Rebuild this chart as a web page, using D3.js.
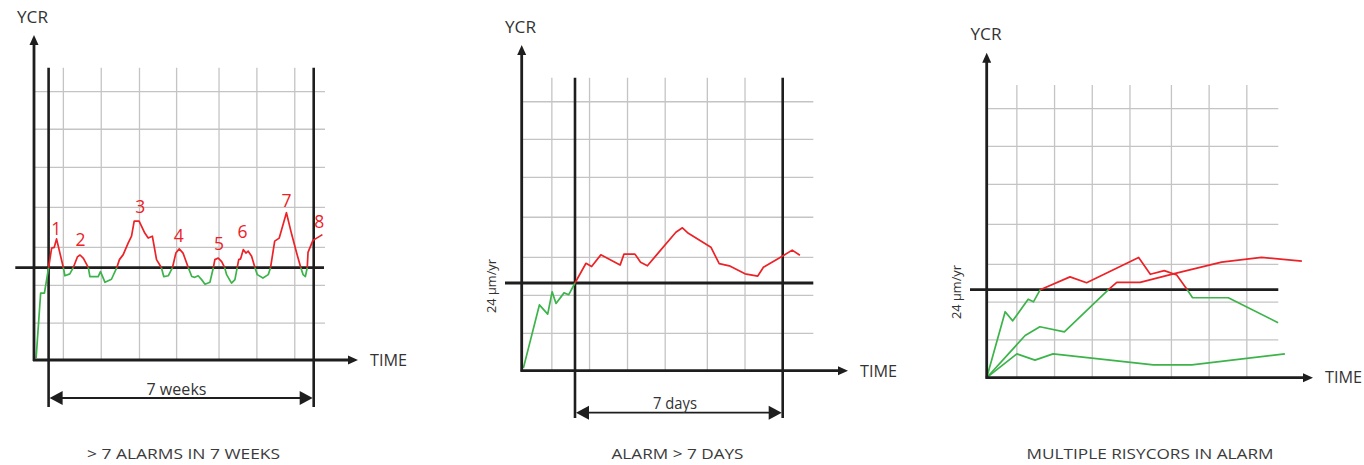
<!DOCTYPE html>
<html>
<head>
<meta charset="utf-8">
<script src="https://cdn.jsdelivr.net/npm/d3@7"></script>
<style>
  body { margin: 0; background: #fff; }
  text { font-family: "Open Sans", sans-serif; fill: #333; }
</style>
</head>
<body>
<script>
var THRESHOLD = 24; // µm/yr

// ---- panel 1 : weeks / YCR ----
var p1Series = [
  [-0.33, 0.5], [-0.21, 17.4], [-0.11, 17.4], [0, 24], [0.08, 29.1], [0.15, 29.3], [0.21, 31.5],
  [0.39, 24], [0.43, 21.9], [0.56, 22.4], [0.65, 24], [0.76, 26.8], [0.83, 27.3], [0.92, 26.4],
  [1.05, 24], [1.09, 21.7], [1.31, 21.7], [1.37, 23], [1.49, 20.2], [1.66, 21], [1.80, 24],
  [1.87, 26.1], [1.97, 27.4], [2.10, 30.4], [2.19, 32.2], [2.26, 36.1], [2.39, 36.1], [2.54, 33],
  [2.63, 31.7], [2.74, 32.2], [2.85, 26.1], [2.98, 24], [3.04, 21.7], [3.16, 21.9], [3.27, 24],
  [3.36, 27.8], [3.45, 28.9], [3.55, 27.8], [3.69, 24], [3.78, 21.7], [3.86, 21.5], [3.95, 21.9],
  [4.04, 20.9], [4.13, 19.7], [4.26, 20.2], [4.35, 24], [4.39, 26.1], [4.48, 26.5], [4.57, 25.6],
  [4.65, 24], [4.70, 22.2], [4.83, 20], [4.92, 20.9], [4.98, 24], [5.02, 26.1], [5.07, 26.3],
  [5.14, 28.7], [5.21, 27.8], [5.27, 28.3], [5.36, 27], [5.45, 24], [5.51, 22.2], [5.66, 21.3],
  [5.80, 22.2], [5.86, 24], [5.97, 30.9], [6.09, 31.7], [6.28, 38.3], [6.41, 33], [6.55, 27.8],
  [6.66, 24], [6.72, 22.2], [6.78, 21.7], [6.83, 24], [6.85, 28], [6.98, 31.1], [7.23, 32.6]
];
var p1Alarms = [
  [0.20, 32.5, "1"], [0.84, 29.6, "2"], [2.42, 38.3, "3"], [3.44, 30.7, "4"],
  [4.50, 28.6, "5"], [5.12, 31.6, "6"], [6.28, 39.8, "7"], [7.15, 34.2, "8"]
];
var p1XGrid = [0.39, 1.39, 2.4, 3.38, 4.5, 5.5, 6.5];
var p1YGrid = [9.6, 19.4, 29.3, 39.7, 50.1, 60, 69.8];

// ---- panel 2 : days / YCR ----
var p2Series = [
  [-1.74, 0.7], [-1.20, 18.0], [-0.92, 15.5], [-0.77, 21.6], [-0.64, 18.4], [-0.37, 21.3],
  [-0.21, 20.8], [0, 24], [0.37, 29.4], [0.56, 28.5], [0.87, 31.7], [1.52, 28.9], [1.65, 31.9],
  [2.02, 31.9], [2.21, 29.7], [2.44, 28.7], [2.75, 31.7], [3.40, 37.9], [3.62, 39.1], [3.82, 37.6],
  [4.58, 33.8], [4.86, 29.3], [5.20, 28.7], [5.73, 26.5], [6.16, 25.9], [6.35, 28.3], [7.0, 31.4],
  [7.32, 33.0], [7.58, 31.6]
];
var p2XGrid = [-0.78, 0.49, 1.77, 3.04, 4.46, 5.73];
var p2YGrid = [10.2, 20.6, 31, 42, 52.9, 63.3, 73.6];

// ---- panel 3 : three risycors ----
var p3SeriesA = [
  [0, 0], [0.49, 18.0], [0.69, 15.5], [1.10, 21.4], [1.24, 20.7], [1.42, 24], [2.21, 27.5],
  [2.65, 25.9], [4.03, 32.8], [4.34, 28.2], [4.71, 29.2], [5.04, 28.0], [5.32, 24], [5.46, 21.8],
  [6.41, 21.8], [7.73, 15.0]
];
var p3SeriesB = [
  [0, 0], [1.02, 11.5], [1.41, 13.9], [2.06, 12.5], [3.23, 24], [3.45, 26.0], [4.07, 26.0],
  [4.95, 28.3], [6.23, 31.5], [7.29, 32.8], [8.36, 31.8]
];
var p3SeriesC = [
  [0, 0], [0.80, 6.5], [1.28, 4.8], [1.76, 6.5], [4.42, 3.5], [5.44, 3.5], [7.91, 6.5]
];
var p3XGrid = [0.8, 1.8, 2.8, 3.8, 4.9, 5.9, 6.9];
var p3YGrid = [10.3, 20.6, 30.9, 41.8, 52.7, 63.1, 73.4];

var RED = "#ec2227", GREEN = "#3cb44a", INK = "#1e1e1e", GRID = "#c4c4c4";

var svg = d3.select("body").append("svg")
  .attr("width", 1364).attr("height", 465);

var panels = [
  { series: [p1Series], xGrid: p1XGrid, yGrid: p1YGrid, labels: p1Alarms,
    axisX: 34, axisY: 360, xRange: [48.6, 313.7], yRange: [360, 267.7],
    gridTop: 67.7, gridRight: 325, yTip: 35, xTip: 358, thr: [15.3, 324],
    win: { top: 67.7, bottom: 407, arrowY: 398, text: "7 weeks", textX: 176.5, textY: 395, w: 60 },
    ycr: [32.5, 23.3], time: [370, 366], unit: null,
    caption: "> 7 ALARMS IN 7 WEEKS", capX: 183.5, capW: 193 },
  { series: [p2Series], xGrid: p2XGrid, yGrid: p2YGrid, labels: [],
    axisX: 521.7, axisY: 370.7, xRange: [575, 782.7], yRange: [370.7, 283],
    gridTop: 77.7, gridRight: 813.3, yTip: 45, xTip: 848, thr: [505, 813.3],
    win: { top: 77.7, bottom: 418, arrowY: 412.7, text: "7 days", textX: 675, textY: 409, w: 44 },
    ycr: [520.5, 33], time: [860, 377], unit: [491.5, 286],
    caption: "ALARM > 7 DAYS", capX: 677.5, capW: 132 },
  { series: [p3SeriesC, p3SeriesB, p3SeriesA], xGrid: p3XGrid, yGrid: p3YGrid, labels: [],
    axisX: 986.7, axisY: 377.7, xRange: [986.7, 1250.6], yRange: [377.7, 289.7],
    gridTop: 85, gridRight: 1278.3, yTip: 52.7, xTip: 1313, thr: [970, 1278.3],
    win: null,
    ycr: [986, 40], time: [1325, 383], unit: [957, 292],
    caption: "MULTIPLE RISYCORS IN ALARM", capX: 1150, capW: 247 }
];

// split a series into runs of the same colour (above / below threshold)
function colourRuns(series) {
  var runs = [];
  d3.pairs(series).forEach(function(p) {
    var c = (p[0][1] + p[1][1]) / 2 > THRESHOLD ? RED : GREEN;
    var last = runs[runs.length - 1];
    if (last && last.colour == c) last.pts.push(p[1]);
    else runs.push({ colour: c, pts: [p[0], p[1]] });
  });
  return runs;
}

panels.forEach(function(p) {
  var g = svg.append("g");
  var x = d3.scaleLinear().domain([0, 7]).range(p.xRange);
  var y = d3.scaleLinear().domain([0, THRESHOLD]).range(p.yRange);

  // grid
  g.selectAll("line.vgrid").data(p.xGrid).enter().append("line")
    .attr("class", "vgrid")
    .attr("x1", d => x(d)).attr("x2", d => x(d))
    .attr("y1", p.gridTop).attr("y2", p.axisY)
    .attr("stroke", GRID).attr("stroke-width", 1.3);
  g.selectAll("line.hgrid").data(p.yGrid).enter().append("line")
    .attr("class", "hgrid")
    .attr("x1", p.axisX).attr("x2", p.gridRight)
    .attr("y1", d => y(d)).attr("y2", d => y(d))
    .attr("stroke", GRID).attr("stroke-width", 1.3);

  // threshold
  g.append("line")
    .attr("x1", p.thr[0]).attr("x2", p.thr[1])
    .attr("y1", y(THRESHOLD)).attr("y2", y(THRESHOLD))
    .attr("stroke", INK).attr("stroke-width", 2.8);

  // window
  if (p.win) {
    [0, 7].forEach(function(t) {
      g.append("line")
        .attr("x1", x(t)).attr("x2", x(t))
        .attr("y1", p.win.top).attr("y2", p.win.bottom)
        .attr("stroke", INK).attr("stroke-width", 2.6);
    });
    var x0 = x(0), x1 = x(7), ay = p.win.arrowY;
    g.append("line")
      .attr("x1", x0 + 10).attr("x2", x1 - 10)
      .attr("y1", ay).attr("y2", ay)
      .attr("stroke", INK).attr("stroke-width", 1.8);
    g.append("path")
      .attr("d", "M" + (x0 + 1) + "," + ay + "L" + (x0 + 14) + "," + (ay - 7) + "L" + (x0 + 14) + "," + (ay + 7) + "Z")
      .attr("fill", INK);
    g.append("path")
      .attr("d", "M" + (x1 - 1) + "," + ay + "L" + (x1 - 14) + "," + (ay - 7) + "L" + (x1 - 14) + "," + (ay + 7) + "Z")
      .attr("fill", INK);
    g.append("text")
      .attr("x", p.win.textX).attr("y", p.win.textY)
      .attr("text-anchor", "middle")
      .attr("textLength", p.win.w)
      .attr("lengthAdjust", "spacingAndGlyphs")
      .style("font-size", "15.5px")
      .text(p.win.text);
  }

  // series
  var line = d3.line().x(d => x(d[0])).y(d => y(d[1]));
  p.series.forEach(function(s) {
    colourRuns(s).forEach(function(r) {
      g.append("path")
        .attr("d", line(r.pts))
        .attr("fill", "none")
        .attr("stroke", r.colour)
        .attr("stroke-width", 1.7)
        .attr("stroke-linejoin", "round");
    });
  });

  g.selectAll("text.alarm").data(p.labels).enter().append("text")
    .attr("class", "alarm")
    .attr("x", d => x(d[0])).attr("y", d => y(d[1]))
    .attr("text-anchor", "middle")
    .style("font-size", "17.5px")
    .style("fill", RED)
    .text(d => d[2]);

  // axes with arrows
  g.append("line")
    .attr("x1", p.axisX).attr("x2", p.axisX)
    .attr("y1", p.axisY + 1).attr("y2", p.yTip + 8)
    .attr("stroke", INK).attr("stroke-width", 2.8);
  g.append("path")
    .attr("d", "M" + p.axisX + "," + p.yTip + "L" + (p.axisX - 4.5) + "," + (p.yTip + 10) + "L" + (p.axisX + 4.5) + "," + (p.yTip + 10) + "Z")
    .attr("fill", INK);
  g.append("line")
    .attr("x1", p.axisX - 1).attr("x2", p.xTip - 8)
    .attr("y1", p.axisY).attr("y2", p.axisY)
    .attr("stroke", INK).attr("stroke-width", 2.8);
  g.append("path")
    .attr("d", "M" + p.xTip + "," + p.axisY + "L" + (p.xTip - 10) + "," + (p.axisY - 4.5) + "L" + (p.xTip - 10) + "," + (p.axisY + 4.5) + "Z")
    .attr("fill", INK);

  // texts
  g.append("text")
    .attr("x", p.ycr[0]).attr("y", p.ycr[1])
    .attr("text-anchor", "middle")
    .attr("textLength", 31)
    .attr("lengthAdjust", "spacingAndGlyphs")
    .style("font-size", "16px")
    .text("YCR");
  g.append("text")
    .attr("x", p.time[0]).attr("y", p.time[1])
    .attr("textLength", 37)
    .attr("lengthAdjust", "spacingAndGlyphs")
    .style("font-size", "15.5px")
    .text("TIME");
  if (p.unit) {
    g.append("text")
      .attr("transform", "translate(" + p.unit[0] + "," + p.unit[1] + ") rotate(-90)")
      .attr("text-anchor", "middle")
      .attr("dy", "0.35em")
      .attr("textLength", 54)
      .attr("lengthAdjust", "spacingAndGlyphs")
      .style("font-size", "12.5px")
      .text("24 µm/yr");
  }
  g.append("text")
    .attr("x", p.capX).attr("y", 459)
    .attr("text-anchor", "middle")
    .attr("textLength", p.capW)
    .attr("lengthAdjust", "spacingAndGlyphs")
    .style("font-size", "14.5px")
    .style("fill", "#3a3a3a")
    .text(p.caption);
});
</script>
</body>
</html>
